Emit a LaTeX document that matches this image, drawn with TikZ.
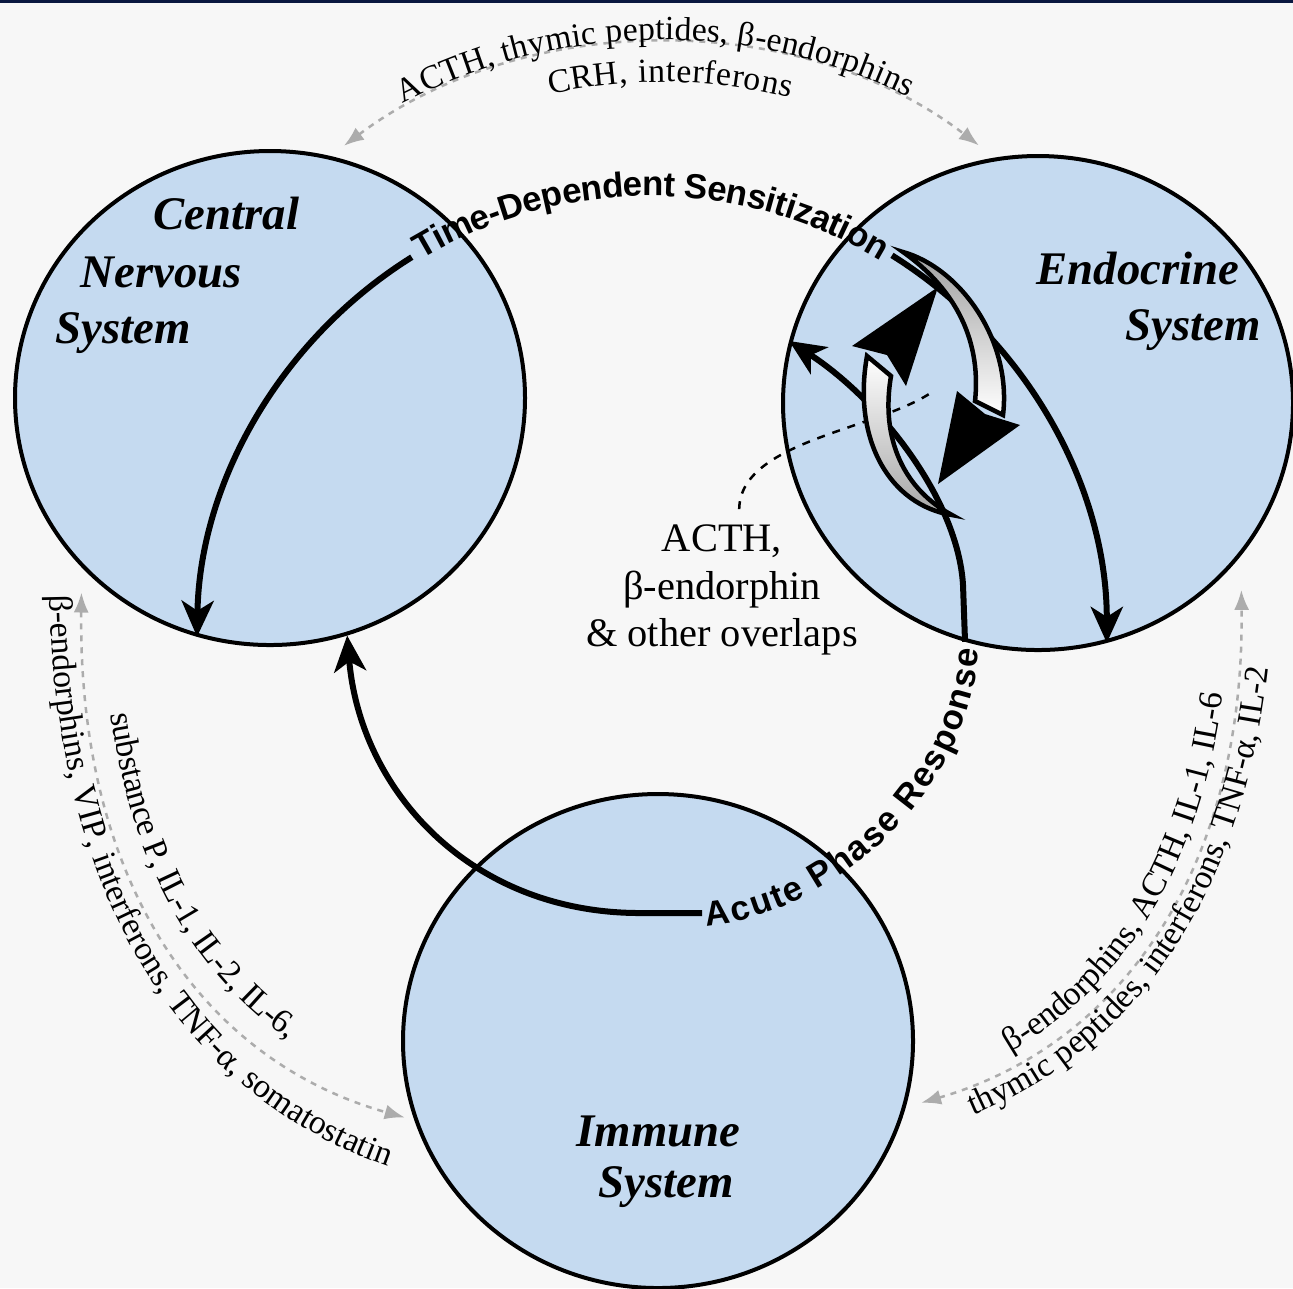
\documentclass[tikz,border=0pt]{standalone}
\usepackage{fontspec}
\setmainfont{Liberation Serif}
\setsansfont{Liberation Sans}
\usetikzlibrary{arrows.meta,shapes.geometric,decorations.text,positioning}
\definecolor{paper}{RGB}{247,247,247}
\definecolor{sysblue}{RGB}{197,218,240}
\definecolor{topbar}{RGB}{10,24,64}
\newcommand{\sysfont}{\fontsize{13.3}{16}\selectfont\bfseries\itshape}
\newcommand{\lblfont}{\fontsize{9.6}{11}\selectfont}
\newcommand{\loopfont}{\sffamily\bfseries\fontsize{9.9}{12}\selectfont}

\begin{document}
\begin{tikzpicture}[x=0.1mm,y=-0.1mm,>={Stealth[length=3.6mm,width=3.2mm,inset=1mm]},
  system/.style={ellipse,draw,line width=0.4mm,fill=sysblue,
    minimum width=51mm,minimum height=49.4mm,inner sep=0pt},
  systitle/.style={anchor=base west,inner sep=0pt,font=\sysfont},
  loopline/.style={line width=0.6mm},
  exchange/.style={gray!65,line width=0.25mm,dash pattern=on 0.6mm off 0.6mm,
    {Latex[length=2mm,width=1.5mm]}-{Latex[length=2mm,width=1.5mm]}},
  leader/.style={line width=0.25mm,dash pattern=on 0.8mm off 0.8mm},
  crescent/.style={draw,line width=0.45mm}]
  \useasboundingbox (0,0) rectangle (1293,1288);
  \fill[paper] (0,0) rectangle (1293,1288);
  \fill[topbar] (0,0) rectangle (1293,3);

  % the three systems
  \node[system] (cns) at (270,398) {};
  \node[system] (endo) at (1038,403) {};
  \node[system] (imm) at (658,1041) {};

  \node[systitle] (cns1) at (153,229) {Central};
  \node[systitle] (cns2) at (80,287) {Nervous};
  \node[systitle] (cns3) at (55,343) {System};
  \node[systitle] (endo1) at (1036,284) {Endocrine};
  \node[systitle] (endo2) at (1125,340) {System};
  \node[systitle] (imm1) at (576,1146) {Immune};
  \node[systitle] (imm2) at (598,1197) {System};

  % messengers exchanged between the systems (dotted, both ways)
  \draw[exchange,shorten <=1.7mm,shorten >=2mm]
    (cns.76) .. controls (525,10) and (800,8) .. (endo.100);
  \draw[exchange,shorten <=2.5mm,shorten >=1mm]
    (cns.-138) .. controls (78,880) and (200,1060) .. (imm.-162);
  \draw[exchange,shorten <=1.6mm,shorten >=3.4mm]
    (imm.-15) .. controls (1120,1045) and (1245,870) .. (endo.-37);

  % their labels: inner ones along the curves, outer ones on their own baselines
  \path[decorate,decoration={text along path,raise=0.6mm,
      text align={left indent=8.9mm,right indent=10.5mm,fit to path},
      text={|\lblfont|ACTH, thymic peptides, β-endorphins}}]
    (cns.76) .. controls (525,10) and (800,8) .. (endo.100);
  \path[decorate,decoration={text along path,raise=-3.6mm,
      text align={left indent=23.6mm,right indent=22mm,fit to path},
      text={|\lblfont|CRH, interferons}}]
    (cns.76) .. controls (525,10) and (800,8) .. (endo.100);
  \path[decorate,decoration={text along path,
      text align={left indent=3mm},
      text={|\lblfont|β-endorphins, VIP, interferons, TNF-α, somatostatin}}]
    (50,565) .. controls (46,885) and (175,1100) .. (405,1172);
  \path[decorate,decoration={text along path,raise=2mm,
      text align={left indent=15mm},
      text={|\lblfont|substance P, IL-1, IL-2, IL-6,}}]
    (cns.-138) .. controls (78,880) and (200,1060) .. (imm.-162);
  \path[decorate,decoration={text along path,raise=1mm,
      text align={left indent=12mm},
      text={|\lblfont|β-endorphins, ACTH, IL-1, IL-6}}]
    (imm.-15) .. controls (1120,1045) and (1245,870) .. (endo.-37);
  \path[decorate,decoration={text along path,
      text align={left indent=6.5mm},
      text={|\lblfont|thymic peptides, interferons, TNF-α, IL-2}}]
    (912,1137) .. controls (1132,1075) and (1274,888) .. (1274,554);

  % time-dependent sensitization loop
  \coordinate (tds) at (650,640);
  \draw[loopline,<-] (cns.-107) arc[start angle=181,end angle=238,radius=457];
  \draw[loopline,<-] (endo.-74) arc[start angle=360,end angle=302,radius=457];
  \path[decorate,decoration={text along path,raise=-1.3mm,text align=fit to path,
      text={|\loopfont|Time-Dependent Sensitization}}]
    (tds) ++(239:457) arc[start angle=239,end angle=301,radius=457];

  % acute phase response loop
  \draw[loopline,<-] (cns.-72) .. controls (360,790) and (470,913) .. (640,913) -- (702,913);
  \draw[loopline,->] (endo.-107) -- (963,585) .. controls (958,500) and (880,400) .. (endo.166);
  \path[decorate,decoration={text along path,raise=-1.3mm,text align=fit to path,
      text={|\loopfont|Acute Phase Response}}]
    (705,913) .. controls (810,905) and (955,800) .. (966,648);

  % overlap note and its leader into the feedback cycle
  \node[align=center,inner sep=1.5mm,font=\fontsize{11.5}{13.5}\selectfont]
    (overlaps) at (722,590) {ACTH,\\β-endorphin\\\& other overlaps};
  \coordinate (cyc) at (935,390);
  \draw[leader] (overlaps.78) .. controls (740,440) and (880,430) .. (cyc);

  % feedback cycle: two hollow curved arrows
  \shadedraw[crescent,top color=gray!75,bottom color=white]
    (903,252) .. controls (960,268) and (1012,340) .. (1003,415) -- (975,401)
    .. controls (982,335) and (950,285) .. (903,252) -- cycle;
  \fill (957,391) -- (938,484) -- (1020,425) -- (985,414) -- cycle;
  \shadedraw[crescent,top color=white,bottom color=gray!70]
    (952,515) .. controls (890,505) and (852,440) .. (867,356) -- (891,376)
    .. controls (880,440) and (905,490) .. (952,515) -- cycle;
  \fill (852,346) -- (938,287) -- (906,386) -- (887,355) -- cycle;
\end{tikzpicture}
\end{document}
